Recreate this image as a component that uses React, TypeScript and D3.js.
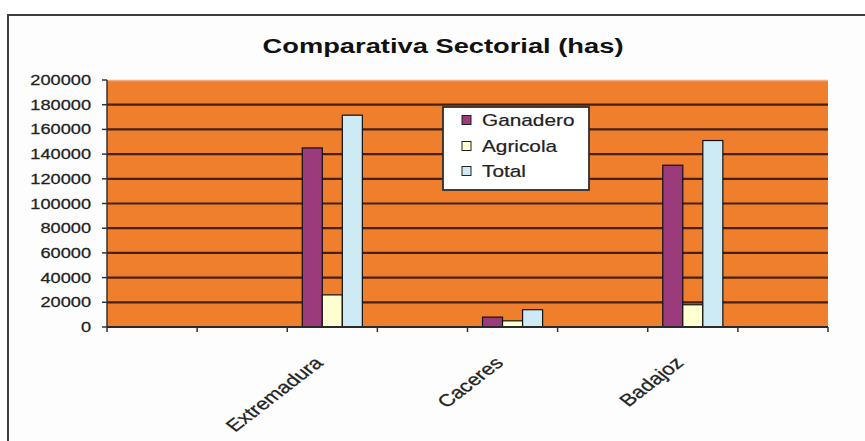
import React from "react";
import * as d3 from "d3";

const categories = ["", "", "Extremadura", "", "Caceres", "", "Badajoz", ""];
const seriesNames = ["Ganadero", "Agricola", "Total"];
const ganadero = [null, null, 145000, null, 8000, null, 131000, null];
const agricola = [null, null, 26000, null, 5000, null, 18000, null];
const total = [null, null, 171500, null, 14000, null, 151000, null];
const yTicks = [0, 20000, 40000, 60000, 80000, 100000, 120000, 140000, 160000, 180000, 200000];
const seriesColors = ["#9B3B7B", "#FFFFD2", "#CDEAF5"];
const title = "Comparativa Sectorial (has)";

const W = 865;
const H = 441;
const SX = 1.3; // horizontal stretch of the original picture
const FONT = "'Liberation Sans', Arial, Helvetica, sans-serif";

export default function App() {
  const plot = { left: 107, right: 828, top: 80, bottom: 327 };
  const x0 = d3
    .scaleBand<number>()
    .domain(d3.range(categories.length))
    .range([plot.left, plot.right])
    .paddingInner(0)
    .paddingOuter(0);
  const bw = x0.bandwidth();
  const x1 = d3
    .scaleBand<string>()
    .domain(seriesNames)
    .range([bw / 6, bw - bw / 6])
    .padding(0);
  const y = d3.scaleLinear().domain([0, 200000]).range([plot.bottom, plot.top]);
  const series = [ganadero, agricola, total];

  const edges = d3.range(categories.length + 1).map((i) => plot.left + i * bw);

  const legend = { x: 443, y: 107, w: 146, h: 83 };
  const legendRows = [120, 146, 171];

  return (
    <svg
      width={W}
      height={H}
      style={{ position: "absolute", left: 0, top: 0, display: "block", background: "#ffffff" }}
      fontFamily={FONT}
    >
      {/* chart frame */}
      <rect x={8} y={15} width={900} height={500} fill="#fdfdfd" stroke="#3d3d3d" strokeWidth={2} />

      {/* title */}
      <text
        transform={`translate(${443},${53}) scale(${SX},1)`}
        textAnchor="middle"
        fontSize={21}
        fontWeight="bold"
        fill="#111"
      >
        {title}
      </text>

      {/* plot area */}
      <rect
        x={plot.left}
        y={plot.top}
        width={plot.right - plot.left}
        height={plot.bottom - plot.top}
        fill="#EF7F2C"
      />
      <line x1={plot.left} x2={plot.right} y1={plot.top + 0.5} y2={plot.top + 0.5} stroke="#F5B07E" strokeWidth={1.5} />

      {/* gridlines */}
      {yTicks
        .filter((t) => t > 0 && t < 200000)
        .map((t) => (
          <line
            key={"g" + t}
            x1={plot.left}
            x2={plot.right}
            y1={y(t)}
            y2={y(t)}
            stroke="#45200A"
            strokeWidth={2.2}
          />
        ))}

      {/* bars */}
      {series.map((vals, si) =>
        vals.map((v, ci) =>
          v == null ? null : (
            <rect
              key={`b${si}-${ci}`}
              x={(x0(ci) as number) + (x1(seriesNames[si]) as number)}
              y={y(v)}
              width={x1.bandwidth()}
              height={y(0) - y(v)}
              fill={seriesColors[si]}
              stroke="#111"
              strokeWidth={1.2}
            />
          )
        )
      )}

      {/* axes */}
      <line x1={plot.left} x2={plot.left} y1={plot.top} y2={plot.bottom} stroke="#333" strokeWidth={1.5} />
      <line x1={plot.left} x2={plot.right} y1={plot.bottom} y2={plot.bottom} stroke="#2a2a2a" strokeWidth={2} />

      {/* y ticks and labels */}
      {yTicks.map((t) => (
        <g key={"y" + t}>
          <line x1={plot.left - 5} x2={plot.left} y1={y(t)} y2={y(t)} stroke="#333" strokeWidth={1.5} />
          <text
            transform={`translate(${91},${y(t) + 5}) scale(${SX},1)`}
            textAnchor="end"
            fontSize={14}
            fill="#222"
            stroke="#222"
            strokeWidth={0.25}
          >
            {t}
          </text>
        </g>
      ))}

      {/* x ticks */}
      {edges.map((e, i) => (
        <line key={"xt" + i} x1={e} x2={e} y1={plot.bottom} y2={plot.bottom + 5} stroke="#333" strokeWidth={1.5} />
      ))}

      {/* x labels */}
      {categories.map((c, i) =>
        c ? (
          <text
            key={"xl" + i}
            transform={`translate(${(x0(i) as number) + bw / 2 - 8},${364}) scale(${SX},1) rotate(-45)`}
            textAnchor="end"
            fontSize={17}
            fill="#222"
            stroke="#222"
            strokeWidth={0.25}
          >
            {c}
          </text>
        ) : null
      )}

      {/* legend */}
      <rect x={legend.x} y={legend.y} width={legend.w} height={legend.h} fill="#ffffff" stroke="#2e2e2e" strokeWidth={1.8} />
      {seriesNames.map((s, i) => (
        <g key={"l" + s}>
          <rect
            x={462}
            y={legendRows[i] - 4.5}
            width={9}
            height={9}
            fill={seriesColors[i]}
            stroke="#222"
            strokeWidth={1}
          />
          <text
            transform={`translate(${482},${legendRows[i] + 5.8}) scale(${SX},1)`}
            fontSize={16}
            fill="#222"
            stroke="#222"
            strokeWidth={0.2}
          >
            {s}
          </text>
        </g>
      ))}
    </svg>
  );
}
